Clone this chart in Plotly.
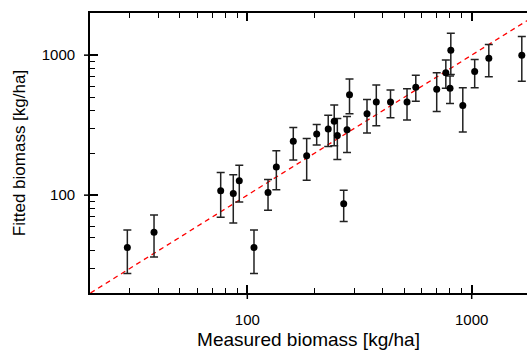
import math
import plotly.graph_objects as go

# Measured (x) vs fitted (y) biomass [kg/ha], with asymmetric error bars
measured = [29.2, 38.4, 76.1, 86.6, 92.1, 107.1, 123.7, 134.7, 160.3, 183.9,
            203.8, 229.4, 244.0, 251.9, 268.9, 278.2, 285.4, 341.5, 375.7, 434.7,
            514.9, 563.5, 698.3, 766.8, 800.4, 807.0, 912.7, 1031.0, 1192.0, 1672.0]
fitted = [42.3, 54.3, 107.5, 102.8, 126.6, 42.3, 104.5, 159.1, 242.8, 191.5,
          273.2, 296.4, 336.8, 267.0, 86.9, 293.1, 522.2, 380.8, 463.4, 461.8,
          463.4, 590.4, 570.4, 748.6, 579.9, 1085.0, 436.2, 763.3, 949.0, 1000.0]
fit_upper = [56.4, 72.1, 145.0, 139.6, 163.4, 56.4, 129.3, 207.8, 304.3, 254.2,
             319.6, 371.5, 441.2, 352.6, 108.5, 364.3, 675.0, 481.2, 612.2, 563.9,
             576.0, 717.3, 748.6, 921.5, 709.0, 1433.0, 585.6, 932.0, 1191.0, 1358.0]
fit_lower = [27.6, 36.1, 69.4, 63.2, 89.2, 27.6, 77.9, 109.2, 178.5, 127.8,
             228.1, 223.0, 225.5, 179.4, 64.7, 202.0, 380.8, 277.7, 312.9, 356.6,
             343.5, 468.7, 395.4, 579.9, 450.7, 726.9, 282.2, 585.6, 701.0, 650.4]

# 1:1 line
one_to_one = [20, 2000]

# axis ticks
major_ticks = [100, 1000]
major_labels = ["100", "1000"]
x_minor = [20, 30, 40, 50, 60, 70, 80, 90, 200, 300, 400, 500, 600, 700, 800, 900]
y_minor = [20, 30, 40, 50, 60, 70, 80, 90, 200, 300, 400, 500, 600, 700, 800, 900]

W, H = 530, 351
M_L, M_R, M_T, M_B = 90, 3, 13, 58
PW, PH = W - M_L - M_R, H - M_T - M_B
OUT_LEN = 6  # outward half of the crossing major ticks, px

x_lo = 1.299
x_range = [x_lo, x_lo + PW / 224.4]
y_range = [math.log10(20), math.log10(2000)]

err_plus = [u - f for u, f in zip(fit_upper, fitted)]
err_minus = [f - l for f, l in zip(fitted, fit_lower)]

FONT = "Liberation Sans, Arial, sans-serif"


def frac(v, rng):
    return (math.log10(v) - rng[0]) / (rng[1] - rng[0])


fig = go.Figure()
fig.add_trace(go.Scatter(
    x=one_to_one, y=one_to_one, mode="lines",
    line=dict(color="#ff0000", width=1.3, dash="5px,4px"),
    showlegend=False,
))
fig.add_trace(go.Scatter(
    x=measured, y=fitted, mode="markers",
    marker=dict(color="black", size=7),
    error_y=dict(type="data", symmetric=False, array=err_plus, arrayminus=err_minus,
                 color="#222222", thickness=1.5, width=4),
    showlegend=False,
))

# outward halves of the major ticks (major ticks cross the axis line)
shapes = []
for t in major_ticks:
    fx = frac(t, x_range)
    fy = frac(t, y_range)
    shapes.append(dict(type="line", xref="paper", yref="paper", x0=fx, x1=fx,
                       y0=0, y1=-OUT_LEN / PH, line=dict(color="black", width=1.5)))
    shapes.append(dict(type="line", xref="paper", yref="paper", y0=fy, y1=fy,
                       x0=0, x1=-OUT_LEN / PW, line=dict(color="black", width=1.5)))

fig.update_layout(
    width=W, height=H,
    margin=dict(l=M_L, r=M_R, t=M_T, b=M_B),
    paper_bgcolor="white", plot_bgcolor="white",
    font=dict(family=FONT, color="black"),
    shapes=shapes,
    xaxis=dict(
        type="log", range=x_range,
        tickmode="array", tickvals=major_ticks, ticktext=major_labels,
        ticks="inside", ticklen=8, tickwidth=1.5, tickcolor="black",
        minor=dict(tickmode="array", tickvals=x_minor, ticks="inside",
                   ticklen=5, tickwidth=1.2, tickcolor="black", showgrid=False),
        showline=True, linecolor="black", linewidth=1.8, mirror="ticks",
        showgrid=False, zeroline=False,
        tickfont=dict(size=15, family=FONT),
        ticklabelstandoff=12,
        title=dict(text="Measured biomass [kg/ha]", font=dict(size=19, family=FONT),
                   standoff=6),
    ),
    yaxis=dict(
        type="log", range=y_range,
        tickmode="array", tickvals=major_ticks, ticktext=major_labels,
        ticks="inside", ticklen=8, tickwidth=1.5, tickcolor="black",
        minor=dict(tickmode="array", tickvals=y_minor, ticks="inside",
                   ticklen=5, tickwidth=1.2, tickcolor="black", showgrid=False),
        showline=True, linecolor="black", linewidth=1.8, mirror=False,
        showgrid=False, zeroline=False,
        tickfont=dict(size=15, family=FONT),
        ticklabelstandoff=10,
        title=dict(text="Fitted biomass [kg/ha]", font=dict(size=17, family=FONT),
                   standoff=12),
    ),
)

fig.write_html("out.html")
